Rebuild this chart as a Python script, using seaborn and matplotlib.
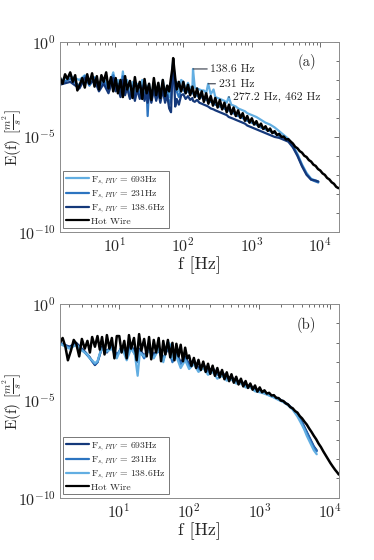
import numpy as np
import pandas as pd
import matplotlib
matplotlib.use('Agg')
import matplotlib.pyplot as plt
import matplotlib.ticker as mticker
import seaborn as sns

# ---- colours ----
c_light = '#62aee2'
c_mid = '#2c74c0'
c_dark = '#14387a'
c_hw = 'black'

# =========================================================
# Panel (a) data  (values are log10 E(f))
# =========================================================
f_hw_a = [1.55, 1.7, 1.85, 2.0, 2.2, 2.4, 2.6, 2.8, 3.0, 3.3, 3.6, 3.9, 4.2, 4.6, 5.0, 5.4, 5.8, 6.3, 6.8, 7.4, 8.0, 8.7, 9.4,
          10.2, 11, 12, 13, 14, 15, 16.5, 18, 19.5, 21, 23, 25, 27, 29, 31.5, 34, 37, 40, 43, 46, 50, 54, 58, 62, 66,
          69, 71, 73, 76, 80, 86, 93,
          100, 108, 117, 126, 136, 147, 159, 172, 186, 200, 216, 233, 252, 272, 294, 318, 343, 371, 400, 432, 467, 504,
          545, 588, 635, 686, 741, 800, 864, 933,
          1008, 1089, 1176, 1270, 1372, 1482, 1600, 1728, 1866, 2016, 2177, 2351, 2540, 2743, 2962, 3199, 3455, 3732,
          4030, 4353, 4701, 5077, 5483, 5922, 6396, 6907, 7460, 8057, 8701, 9397, 10149, 10961, 11838, 12785, 13808,
          14912, 16105, 17394, 18785]
logE_hw_a = [-1.85, -2.2, -1.7, -1.95, -1.6, -2.1, -1.75, -2.55, -2.3, -1.9, -2.4, -1.7, -2.2, -1.65, -2.35, -1.8,
             -2.5, -1.75, -2.1, -1.6, -2.45, -1.85, -2.6,
             -1.9, -2.7, -2.0, -2.9, -1.8, -2.5, -2.05, -2.95, -1.85, -2.6, -2.1, -3.0, -1.95, -2.7, -2.2, -3.05, -1.9,
             -2.8, -2.15, -2.95, -2.0, -2.85, -2.3, -2.6, -1.9,
             -1.4, -0.85, -1.3, -1.9, -2.5, -2.1, -2.6,
             -2.1, -2.7, -2.25, -2.8, -2.35, -2.9, -2.45, -3.0, -2.6, -3.15, -2.7, -3.25, -2.85, -3.35, -2.95, -3.45,
             -3.05, -3.55, -3.2, -3.7, -3.3, -3.8, -3.45, -3.9, -3.6, -4.0, -3.75, -4.15, -3.9, -4.25,
             -4.02, -4.35, -4.17, -4.47, -4.3, -4.58, -4.44, -4.68, -4.56, -4.8, -4.7, -4.9, -4.84, -5.0, -4.98, -5.13,
             -5.12, -5.24,
             -5.35, -5.52, -5.6, -5.75, -5.83, -5.99, -6.06, -6.22, -6.3, -6.46, -6.53, -6.69, -6.77, -6.92, -7.0,
             -7.16, -7.24, -7.39, -7.47, -7.63, -7.7]

f_piv_a = [1.55, 2.2, 3.0, 3.6, 4.2, 5.0, 5.8, 6.8, 8.0, 9.4, 10.2, 11, 12, 13, 14, 15, 16.5, 18, 19.5, 21, 23, 25, 27,
           29, 30, 31.5, 34, 37, 40, 43, 46, 50, 54, 58, 62, 66, 69, 71, 73, 76, 80, 86, 93,
           100, 108, 117, 126, 136, 138.6, 147, 159, 172, 186, 200, 216, 231, 252, 277, 294, 318, 343, 371, 400, 432,
           462, 504, 545, 588, 635, 686, 741, 800, 864, 933, 1008, 1176, 1372, 1600, 1866, 2177, 2540, 2962, 3455,
           4030, 4701, 5483, 6396, 7460, 8701, 9500]
logE_693_a = [-2.05, -1.8, -2.0, -1.75, -2.1, -1.85, -2.3, -1.9, -2.4, -1.6, -2.3, -2.0, -2.6, -1.55, -2.5, -2.0, -2.7,
              -2.1, -2.8, -2.2, -2.6, -2.0, -2.7, -2.3, -3.0, -2.2, -2.9, -2.1, -2.7, -2.2, -2.8, -2.0, -2.7, -2.3,
              -2.9, -2.5, -1.5, -1.0, -1.5, -2.3, -2.1, -2.6, -2.0,
              -2.1, -2.5, -2.15, -2.45, -2.3, -1.42, -2.4, -2.45, -2.5, -2.55, -2.55, -2.7, -2.2, -2.75, -2.5, -2.9,
              -2.95, -3.0, -3.05, -3.1, -3.2, -2.9, -3.3, -3.35, -3.4, -3.5, -3.55, -3.6, -3.65, -3.75, -3.8, -3.85,
              -3.95, -4.1, -4.25, -4.35, -4.5, -4.7, -4.9, -5.1,
              -5.45, -5.9, -6.45, -6.9, -7.2, -7.3, -7.35]
logE_231_a = [-2.2, -1.95, -2.3, -1.8, -2.3, -1.9, -2.5, -2.05, -2.5, -1.75, -2.5, -2.2, -2.8, -1.8, -2.7, -2.3, -2.9,
              -2.3, -3.0, -2.4, -2.8, -2.3, -2.9, -2.5, -3.9, -2.4, -3.1, -2.3, -3.0, -2.5, -3.1, -2.3, -3.0, -2.6,
              -3.3, -3.0, -1.6, -1.1, -1.6, -2.6, -2.6, -2.9, -2.5,
              -2.5, -2.7, -2.55, -2.75, -2.6, -2.7, -2.85, -2.8, -2.95, -2.9, -3.0, -3.05, -3.1, -3.15, -3.2, -3.3,
              -3.35, -3.4, -3.45, -3.5, -3.6, -3.6, -3.7, -3.75, -3.85, -3.9, -3.95, -4.0, -4.1, -4.15, -4.2, -4.25,
              -4.35, -4.5, -4.6, -4.7, -4.8, -4.95, -5.05, -5.2,
              -5.5, -5.95, -6.5, -6.95, -7.25, -7.35, -7.4]
logE_139_a = [-2.25, -2.1, -2.45, -1.9, -2.2, -2.0, -2.6, -2.2, -2.7, -1.9, -2.6, -2.4, -2.9, -2.0, -2.8, -2.4, -3.0,
              -2.5, -3.1, -2.5, -3.0, -2.4, -3.1, -2.6, -3.2, -2.6, -3.2, -2.5, -3.1, -2.6, -3.2, -2.5, -3.2, -2.8,
              -3.5, -3.7, -1.8, -1.2, -1.8, -3.4, -3.0, -3.3, -2.8,
              -2.75, -3.0, -2.85, -3.05, -2.95, -3.1, -3.15, -3.05, -3.2, -3.25, -3.3, -3.35, -3.4, -3.5, -3.55, -3.6,
              -3.65, -3.7, -3.75, -3.8, -3.85, -3.95, -4.0, -4.05, -4.1, -4.15, -4.2, -4.25, -4.3, -4.4, -4.45, -4.5,
              -4.6, -4.7, -4.8, -4.9, -5.0, -5.05, -5.15, -5.25,
              -5.55, -6.0, -6.55, -7.0, -7.25, -7.3, -7.35]

# =========================================================
# Panel (b) data  (values are log10 E(f))
# =========================================================
f_hw_b = [1.46, 1.6, 1.75, 1.9, 2.1, 2.3, 2.5, 2.75, 3.0, 3.3, 3.6, 3.9, 4.2, 4.6, 5.0, 5.4, 5.8, 6.3, 6.8, 7.4, 8.0,
          8.7, 9.4,
          10.2, 11, 12, 13, 14, 15, 16.5, 18, 19.5, 21, 23, 25, 27, 29, 31.5, 34, 37, 40, 43, 46, 50, 54, 58, 62, 66,
          71, 76, 82, 88, 94,
          100, 108, 117, 126, 136, 147, 159, 172, 186, 200, 216, 233, 252, 272, 294, 318, 343, 371, 400, 432, 467, 504,
          545, 588, 635, 686, 741, 800, 864, 933,
          1008, 1089, 1176, 1270, 1372, 1482, 1600, 1728, 1866, 2016, 2177, 2351, 2540, 2743, 2962, 3199, 3455, 3732,
          4030, 4353, 4701, 5077, 5483, 5922, 6396, 6907, 7460, 8057, 8701, 9397, 10149, 10961, 11838, 12785, 13400]
logE_hw_b = [-2.0, -1.75, -2.2, -2.9, -2.4, -1.85, -2.05, -2.7, -1.8, -2.3, -1.9, -2.5, -1.7, -2.2, -1.65, -2.35,
             -1.7, -2.6, -1.6, -2.3, -1.75, -2.8, -1.65,
             -1.65, -2.5, -1.9, -2.8, -1.6, -2.3, -1.75, -2.9, -1.55, -2.4, -1.8, -2.7, -1.7, -2.85, -1.85, -2.5, -1.75,
             -2.95, -1.9, -2.6, -1.85, -2.75, -2.0, -2.9, -2.05, -2.7, -2.1, -2.95, -2.25, -2.8,
             -2.65, -3.2, -2.78, -3.3, -2.88, -3.4, -2.97, -3.5, -3.08, -3.6, -3.18, -3.7, -3.3, -3.78, -3.4, -3.88,
             -3.52, -3.98, -3.62, -4.06, -3.75, -4.15, -3.85, -4.25, -3.97, -4.33, -4.1, -4.42, -4.2, -4.52,
             -4.3, -4.55, -4.45, -4.62, -4.58, -4.72, -4.7, -4.84, -4.85, -4.98, -5.0, -5.12, -5.18, -5.32, -5.38,
             -5.52, -5.6, -5.78,
             -5.9, -6.07, -6.22, -6.42, -6.6, -6.8, -6.98, -7.2, -7.38, -7.6, -7.8, -8.0, -8.2, -8.38, -8.55, -8.7,
             -8.8]

f_piv_b = [1.46, 2.0, 2.5, 3.0, 3.3, 3.6, 3.9, 4.2, 4.6, 5.0, 5.4, 5.8, 6.8, 8.0, 9.4, 11, 13, 15, 17, 18.6, 20, 23,
           27, 31.5, 37, 43, 50, 54, 58, 66, 76, 88, 100, 117, 136, 159, 186, 216, 252, 294, 343, 400, 467, 545, 635,
           741, 864, 1008, 1176, 1372, 1600, 1866, 2177, 2540, 2962, 3455, 4030, 4353, 4701, 5077, 5483, 5922, 6500]
logE_693_b = [-2.0, -2.2, -2.0, -2.3, -2.45, -2.6, -2.75, -2.95, -3.15, -3.0, -2.6, -2.2, -2.5, -2.1, -2.7, -2.2,
              -2.6, -2.1, -2.5, -2.9, -2.3, -2.7, -2.2, -2.6, -2.3, -2.8, -2.3, -2.5, -2.9, -2.5, -3.0, -2.7, -3.1,
              -2.9, -3.3, -3.1, -3.45, -3.3, -3.6, -3.5, -3.8, -3.75, -4.0, -3.95, -4.2, -4.2, -4.4, -4.45, -4.55,
              -4.68, -4.78, -4.88, -5.02, -5.18, -5.4, -5.7, -6.1, -6.35, -6.6, -6.85, -7.1, -7.35, -7.55]
logE_231_b = [-2.0, -2.25, -2.1, -2.35, -2.5, -2.65, -2.8, -2.95, -3.1, -3.0, -2.6, -2.25, -2.4, -2.2, -2.6, -2.3,
              -2.7, -2.2, -2.6, -3.0, -2.4, -2.8, -2.3, -2.7, -2.4, -2.9, -2.2, -2.6, -3.0, -2.6, -3.1, -2.8, -3.2,
              -3.05, -3.4, -3.2, -3.5, -3.4, -3.65, -3.6, -3.85, -3.8, -4.05, -4.0, -4.25, -4.25, -4.45, -4.5, -4.6,
              -4.7, -4.8, -4.92, -5.05, -5.2, -5.42, -5.72, -6.15, -6.4, -6.65, -6.9, -7.15, -7.4, -7.6]
logE_139_b = [-2.05, -2.3, -2.1, -2.4, -2.5, -2.6, -2.8, -2.9, -3.05, -2.95, -2.55, -2.3, -2.45, -2.3, -2.8, -2.2,
              -2.9, -2.3, -2.6, -3.7, -2.5, -2.7, -2.4, -2.8, -2.3, -3.0, -1.95, -2.1, -2.8, -2.7, -3.3, -2.9, -3.35,
              -3.1, -3.5, -3.3, -3.65, -3.5, -3.85, -3.7, -3.95, -3.9, -4.1, -4.1, -4.3, -4.3, -4.5, -4.55, -4.62,
              -4.72, -4.82, -4.95, -5.05, -5.22, -5.45, -5.8, -6.25, -6.5, -6.8, -7.05, -7.3, -7.55, -7.75]

labels = [r'F$_{s,PIV}$ = 693Hz', r'F$_{s,PIV}$ = 231Hz', r'F$_{s,PIV}$ = 138.6Hz', 'Hot Wire']

# ---- style ----
sns.set_theme(style='white')
plt.rcParams['font.family'] = ['cmr10', 'DejaVu Serif']
plt.rcParams['mathtext.fontset'] = 'cm'
plt.rcParams['axes.unicode_minus'] = False
plt.rcParams['axes.formatter.use_mathtext'] = True

fig = plt.figure(figsize=(3.74, 5.6), dpi=100)
ax_a = fig.add_axes([0.160, 0.586, 0.746, 0.339])
ax_b = fig.add_axes([0.160, 0.111, 0.746, 0.346])


def draw(ax, f_piv, series, f_hw, hw, xlim):
    ax.set_xscale('log')
    ax.set_yscale('log')
    for (vals, col, lab) in series:
        df = pd.DataFrame({'f': f_piv, 'E': 10.0 ** np.array(vals)})
        sns.lineplot(data=df, x='f', y='E', ax=ax, color=col, lw=1.6, label=lab,
                     estimator=None, sort=False)
    df = pd.DataFrame({'f': f_hw, 'E': 10.0 ** np.array(hw)})
    sns.lineplot(data=df, x='f', y='E', ax=ax, color=c_hw, lw=1.8, label='Hot Wire',
                 estimator=None, sort=False)

    ax.set_xlim(*xlim)
    ax.set_ylim(1e-10, 1)
    ax.set_yticks([1e-10, 1e-5, 1])
    ax.yaxis.set_minor_locator(mticker.FixedLocator([10.0 ** -k for k in range(1, 10)]))
    ax.yaxis.set_minor_formatter(mticker.NullFormatter())
    ax.xaxis.set_major_locator(mticker.FixedLocator([10, 100, 1000, 10000]))
    ax.xaxis.set_minor_locator(mticker.LogLocator(base=10, subs=np.arange(2, 10), numticks=20))
    ax.xaxis.set_minor_formatter(mticker.NullFormatter())
    ax.tick_params(which='both', direction='in', top=True, right=True, labelsize=11.5,
                   color='#555555', width=0.6)
    ax.tick_params(which='major', length=3.5, pad=3)
    ax.tick_params(which='minor', length=2)
    for sp in ax.spines.values():
        sp.set_color('#8c8c8c')
        sp.set_linewidth(0.7)

    ax.set_xlabel('f [Hz]', fontsize=13, labelpad=1)
    ax.set_ylabel(r'E(f) $[\frac{m^2}{s}]$', fontsize=11)
    ax.yaxis.set_label_coords(-0.13, 0.5)

    leg = ax.legend(loc='lower left', fontsize=7, handlelength=2.4, labelspacing=0.15,
                    borderaxespad=0.35, fancybox=False, framealpha=1, edgecolor='#777777',
                    borderpad=0.3, handletextpad=0.2)
    leg.get_frame().set_linewidth(0.7)
    for line in leg.get_lines():
        line.set_linewidth(1.6)


draw(ax_a, f_piv_a,
     [(logE_693_a, c_light, labels[0]), (logE_231_a, c_mid, labels[1]), (logE_139_a, c_dark, labels[2])],
     f_hw_a, logE_hw_a, (1.55, 1.9e4))
draw(ax_b, f_piv_b,
     [(logE_693_b, c_dark, labels[0]), (logE_231_b, c_mid, labels[1]), (logE_139_b, c_light, labels[2])],
     f_hw_b, logE_hw_b, (1.46, 1.34e4))

# ---- peak annotations (panel a) ----
ann = dict(arrowstyle='-', color='#333a48', lw=0.8, shrinkA=0, shrinkB=0)
ax_a.annotate('138.6 Hz', xy=(138.6, 10 ** -1.42), xytext=(250, 10 ** -1.42), fontsize=8.5,
              va='center', ha='left', arrowprops=ann)
ax_a.annotate('231 Hz', xy=(231, 10 ** -2.2), xytext=(330, 10 ** -2.2), fontsize=8.5,
              va='center', ha='left', arrowprops=ann)
ax_a.annotate('277.2 Hz, 462 Hz', xy=(462, 10 ** -2.9), xytext=(530, 10 ** -2.9), fontsize=8.5,
              va='center', ha='left', arrowprops=ann)

ax_a.text(0.885, 0.895, '(a)', transform=ax_a.transAxes, fontsize=10.5, ha='center', va='center')
ax_b.text(0.885, 0.89, '(b)', transform=ax_b.transAxes, fontsize=10.5, ha='center', va='center')

fig.savefig('out.png', dpi=100)
